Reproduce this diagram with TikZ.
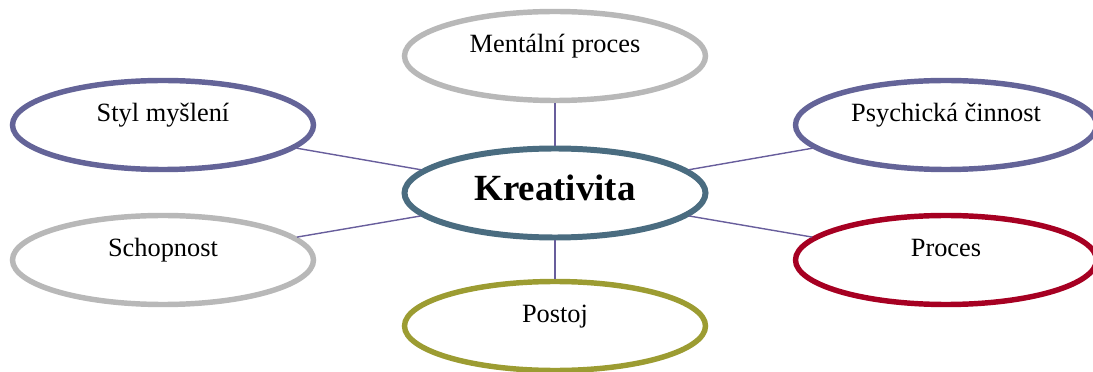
\documentclass[tikz,border=0pt]{standalone}
\usepackage{fontspec}
\setmainfont{Liberation Serif}
\usepackage{xcolor}
\usepackage{tikz}
\usetikzlibrary{shapes,positioning}
\definecolor{centreblue}{RGB}{74,108,128}
\definecolor{slatepurple}{RGB}{100,100,152}
\definecolor{softgray}{RGB}{184,184,184}
\definecolor{deepred}{RGB}{166,0,34}
\definecolor{olivegreen}{RGB}{156,156,50}
\definecolor{linkpurple}{RGB}{104,94,156}

\begin{document}
\begin{tikzpicture}[font=\fontsize{15}{18}\selectfont,
    bubble/.style={ellipse, line width=3.1pt, fill=white, inner sep=0pt, minimum width=6.02cm, minimum height=1.78cm, text height=10pt, text depth=13.5pt},
    link/.style={draw=linkpurple, line width=0.8pt}]
        \useasboundingbox (0,0) rectangle (21.86,7.42);
        \node[bubble, draw=centreblue, line width=3.4pt, font=\fontsize{21}{25}\selectfont\bfseries, text height=14pt, text depth=6pt] (kreat) at (11.10,3.56) {Kreativita};
        \node[bubble, draw=softgray] (mental) at (11.10,6.30) {Mentální proces};
        \node[bubble, draw=olivegreen] (postoj) at (11.10,0.90) {Postoj};
        \node[bubble, draw=slatepurple] (styl) at (3.26,4.92) {Styl myšlení};
        \node[bubble, draw=softgray] (schop) at (3.26,2.22) {Schopnost};
        \node[bubble, draw=slatepurple] (psych) at (18.92,4.92) {Psychická činnost};
        \node[bubble, draw=deepred] (proces) at (18.92,2.22) {Proces};

        \draw[link] (kreat) -- (mental);
        \draw[link] (kreat) -- (postoj);
        \draw[link] (kreat) -- (styl);
        \draw[link] (kreat) -- (schop);
        \draw[link] (kreat) -- (psych);
        \draw[link] (kreat) -- (proces);
      \end{tikzpicture}
\end{document}
